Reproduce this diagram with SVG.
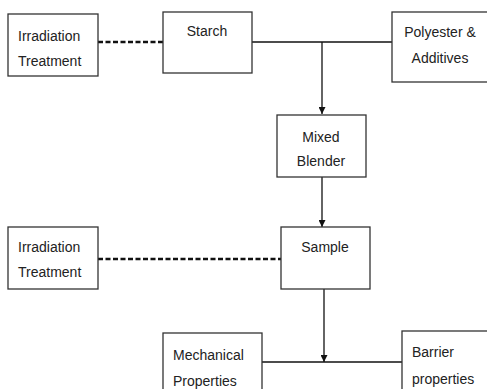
<svg xmlns="http://www.w3.org/2000/svg" width="487" height="389" viewBox="0 0 487 389">
<defs>
<style>
.box{fill:#fff;stroke:#333;stroke-width:1.3}
.t{font-family:"Liberation Sans",Arial,sans-serif;font-size:14px;fill:#222}
.c{text-anchor:middle}
.ln{stroke:#111;stroke-width:1.3;fill:none}
.dash{stroke:#111;stroke-width:2.5;stroke-dasharray:5,2.5;fill:none}
</style>
<marker id="ah" viewBox="0 0 10 10" refX="10" refY="5" markerWidth="7" markerHeight="7" markerUnits="userSpaceOnUse" orient="auto">
<path d="M0,0 L10,5 L0,10 z" fill="#111"/>
</marker>
</defs>
<rect width="487" height="389" fill="#fff"/>
<g id="connectors">
<line class="dash" x1="98" y1="42" x2="163" y2="42"/>
<line class="ln" x1="252" y1="42" x2="392" y2="42"/>
<line class="ln" x1="322" y1="42" x2="322" y2="114" marker-end="url(#ah)"/>
<line class="ln" x1="322" y1="177" x2="322" y2="227" marker-end="url(#ah)"/>
<line class="dash" x1="98" y1="259" x2="281" y2="259"/>
<line class="ln" x1="324" y1="289" x2="324" y2="362" marker-end="url(#ah)"/>
<line class="ln" x1="262" y1="362" x2="402" y2="362"/>
</g>
<g id="irradiation1">
<rect class="box" x="8" y="14" width="90" height="62"/>
<text class="t" x="18" y="41">Irradiation</text>
<text class="t" x="18" y="66">Treatment</text>
</g>
<g id="starch">
<rect class="box" x="163" y="12" width="89" height="61"/>
<text class="t c" x="207" y="36">Starch</text>
</g>
<g id="polyester">
<rect class="box" x="392" y="12" width="100" height="70"/>
<text class="t c" x="440" y="37">Polyester &amp;</text>
<text class="t c" x="440" y="63">Additives</text>
</g>
<g id="mixed">
<rect class="box" x="277" y="115" width="89" height="62"/>
<text class="t c" x="321" y="142">Mixed</text>
<text class="t c" x="321" y="166">Blender</text>
</g>
<g id="irradiation2">
<rect class="box" x="8" y="227" width="90" height="62"/>
<text class="t" x="18" y="252">Irradiation</text>
<text class="t" x="18" y="277">Treatment</text>
</g>
<g id="sample">
<rect class="box" x="281" y="227" width="89" height="62"/>
<text class="t c" x="325" y="252">Sample</text>
</g>
<g id="mechanical">
<rect class="box" x="163" y="333" width="99" height="70"/>
<text class="t" x="173" y="360">Mechanical</text>
<text class="t" x="173" y="386">Properties</text>
</g>
<g id="barrier">
<rect class="box" x="402" y="331" width="100" height="70"/>
<text class="t" x="412" y="357">Barrier</text>
<text class="t" x="412" y="384">properties</text>
</g>
</svg>
